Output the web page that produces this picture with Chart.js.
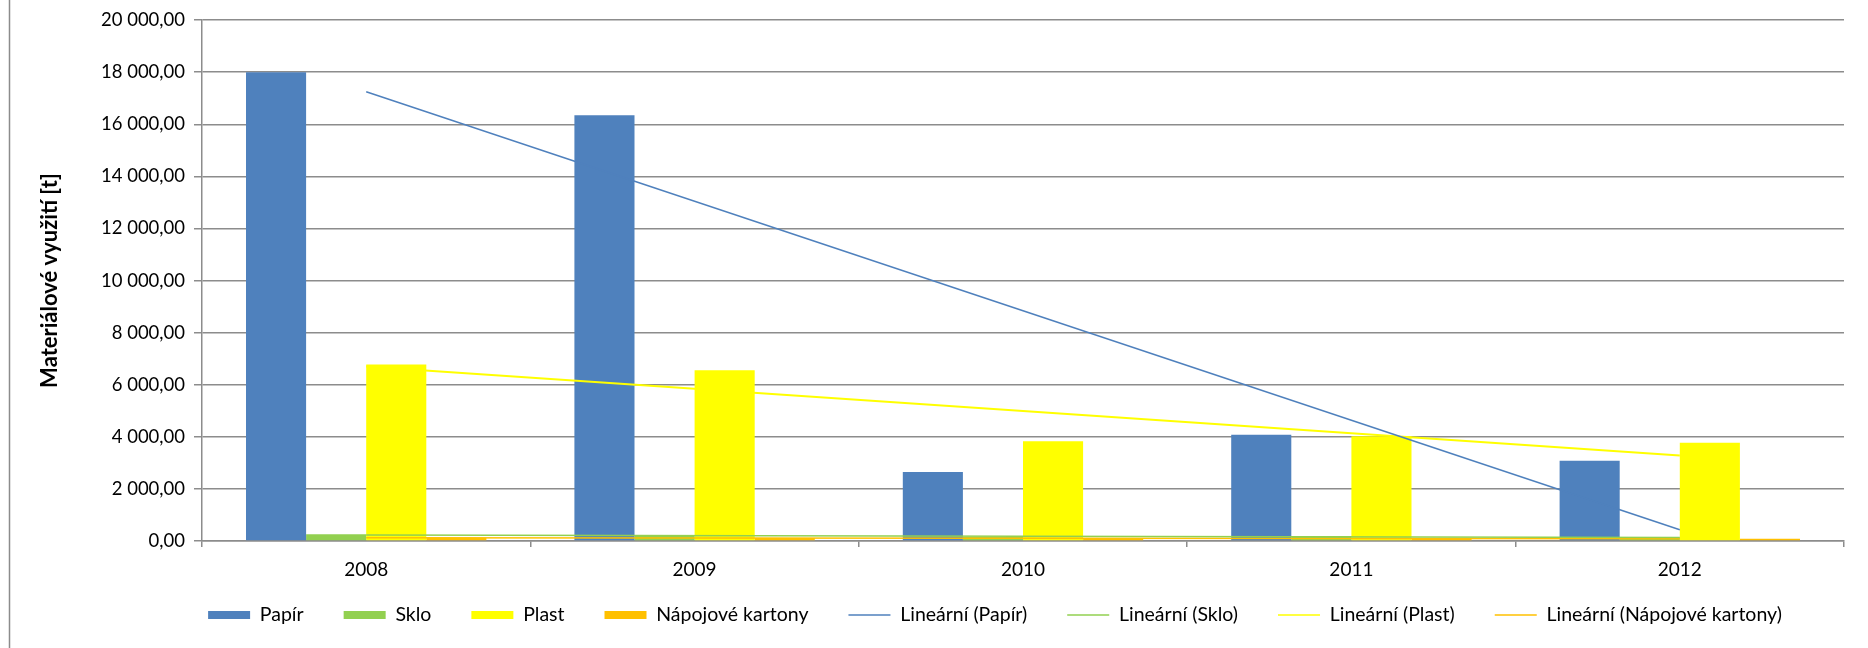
<!DOCTYPE html>
<html>
<head>
<meta charset="utf-8">
<script src="https://cdn.jsdelivr.net/npm/chart.js@4/dist/chart.umd.min.js"></script>
<style>
  html, body { margin: 0; padding: 0; background: #fff; }
  #chart { display: block; }
</style>
</head>
<body>
<canvas id="chart" width="1868" height="648"></canvas>
<script>
// categories
const years = ["2008", "2009", "2010", "2011", "2012"];

// bars (t)
const papir = [18000, 16350, 2650, 4080, 3080];
const sklo = [255, 190, 150, 190, 130];
const plast = [6780, 6560, 3830, 4020, 3770];
const napojove = [125, 115, 100, 100, 85];

// linear trend lines, read at first and last year
const trendPapir = [17250, null, null, null, 430];
const trendSklo = [235, null, null, null, 135];
const trendPlast = [6700, null, null, null, 3280];
const trendNapojove = [125, null, null, null, 85];

const yTicks = [0, 2000, 4000, 6000, 8000, 10000, 12000, 14000, 16000, 18000, 20000];

const BLUE = "#4F81BD", GREEN = "#92D050", YELLOW = "#FFFF00", ORANGE = "#FFC000";
const FONT = "Lato, 'Open Sans', sans-serif";
const LEGEND_FONT = 19.5;
const LEGEND_PAD = 40;

function fmt(v) {
  const parts = v.toFixed(2).split(".");
  const int = parts[0].replace(/\B(?=(\d{3})+(?!\d))/g, " ");
  return int + "," + parts[1];
}

function bar(label, data, color) {
  return { type: "bar", label, data, backgroundColor: color, borderWidth: 0, order: 1 };
}
function trend(label, data, color, width) {
  return {
    type: "line", label, data, borderColor: color, borderWidth: width,
    pointRadius: 0, spanGaps: true, fill: false, order: 0
  };
}

const frame = {
  id: "frame",
  beforeDraw(chart) {
    const ctx = chart.ctx;
    ctx.save();
    ctx.strokeStyle = "#8c8c8c";
    ctx.lineWidth = 1.5;
    ctx.beginPath();
    ctx.moveTo(9.5, 0);
    ctx.lineTo(9.5, chart.height);
    ctx.stroke();
    ctx.restore();
  },
  afterLayout(chart) {
    // place legend row like the original (shifted right, centred at y=615)
    const lg = chart.legend;
    lg.left += 68;
    lg.right += 68;
    const h = lg.bottom - lg.top;
    lg.top = 615 - LEGEND_PAD - LEGEND_FONT / 2;
    lg.bottom = lg.top + h;
  }
};

new Chart(document.getElementById("chart"), {
  data: {
    labels: years,
    datasets: [
      bar("Papír", papir, BLUE),
      bar("Sklo", sklo, GREEN),
      bar("Plast", plast, YELLOW),
      bar("Nápojové kartony", napojove, ORANGE),
      trend("Lineární (Papír)", trendPapir, BLUE, 1.5),
      trend("Lineární (Sklo)", trendSklo, GREEN, 1.5),
      trend("Lineární (Plast)", trendPlast, YELLOW, 2),
      trend("Lineární (Nápojové kartony)", trendNapojove, ORANGE, 1.5)
    ]
  },
  options: {
    responsive: false,
    animation: false,
    devicePixelRatio: 1,
    layout: { padding: { left: 10, right: 24, top: 18, bottom: 0 } },
    datasets: { bar: { categoryPercentage: 0.732, barPercentage: 1 } },
    scales: {
      x: {
        grid: { display: true, drawOnChartArea: false, color: "#8c8c8c", lineWidth: 1.5, tickLength: 6 },
        border: { display: true, color: "#8c8c8c", width: 1.5 },
        ticks: { color: "#000", font: { family: FONT, size: 19 }, padding: 11 },
        afterFit(scale) { scale.height = 37.5; }
      },
      y: {
        min: 0,
        max: 20000,
        afterBuildTicks(scale) { scale.ticks = yTicks.map(v => ({ value: v })); },
        grid: { color: "#8c8c8c", lineWidth: 1.5, tickLength: 8 },
        border: { display: true, color: "#8c8c8c", width: 1.5 },
        ticks: { color: "#000", font: { family: FONT, size: 18.5 }, padding: 9, callback: v => fmt(v) },
        title: {
          display: true,
          text: "Materiálové využití [t]",
          color: "#000",
          font: { family: FONT, size: 22, weight: "bold" },
          padding: { top: 27, bottom: 0 }
        },
        afterFit(scale) { scale.width = 192; }
      }
    },
    plugins: {
      tooltip: { enabled: false },
      legend: {
        position: "bottom",
        labels: {
          usePointStyle: true,
          pointStyleWidth: 42,
          boxHeight: 8,
          padding: LEGEND_PAD,
          color: "#000",
          font: { family: FONT, size: LEGEND_FONT },
          generateLabels(chart) {
            return chart.data.datasets.map((ds, i) => {
              const isLine = ds.type === "line";
              return {
                text: ds.label,
                fillStyle: isLine ? "rgba(0,0,0,0)" : ds.backgroundColor,
                strokeStyle: isLine ? ds.borderColor : ds.backgroundColor,
                lineWidth: isLine ? 1.5 : 0,
                pointStyle: isLine ? "line" : "rect",
                fontColor: "#000",
                hidden: false,
                datasetIndex: i
              };
            });
          }
        }
      }
    }
  },
  plugins: [frame]
});
</script>
</body>
</html>
